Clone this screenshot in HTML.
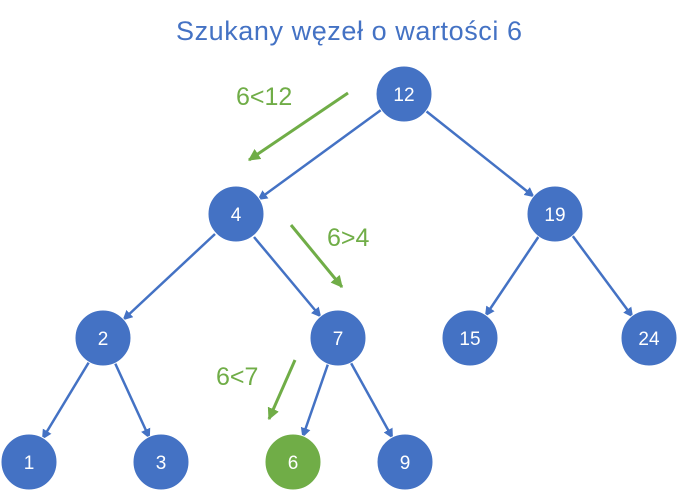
<!DOCTYPE html>
<html><head><style>
body{margin:0;background:#fff;}
svg{display:block;font-family:"Liberation Sans",sans-serif;}
</style></head><body>
<svg width="678" height="490" viewBox="0 0 678 490">
<defs>
<marker id="b" markerWidth="10" markerHeight="10" refX="8" refY="5" orient="auto" markerUnits="userSpaceOnUse" viewBox="0 0 10 10"><path d="M0,0 L10,5 L0,10 z" fill="#4472C4"/></marker>
<marker id="g" markerWidth="12" markerHeight="12" refX="9" refY="5" orient="auto" markerUnits="userSpaceOnUse" viewBox="0 0 10 10"><path d="M0,0 L10,5 L0,10 z" fill="#70AD47"/></marker>
</defs>
<text x="349" y="40" font-size="27" fill="#4472C4" text-anchor="middle" textLength="346">Szukany węzeł o wartości 6</text>
<g stroke="#4472C4" stroke-width="2.5" marker-end="url(#b)">
<line x1="381" y1="110" x2="259" y2="199"/>
<line x1="426" y1="111" x2="533" y2="196"/>
<line x1="215" y1="234" x2="124" y2="319"/>
<line x1="254" y1="237" x2="320" y2="316"/>
<line x1="539" y1="236" x2="486" y2="315"/>
<line x1="572" y1="235" x2="632" y2="316"/>
<line x1="89" y1="362" x2="43" y2="438"/>
<line x1="115" y1="363" x2="149" y2="437"/>
<line x1="328" y1="364" x2="303" y2="436"/>
<line x1="351" y1="363" x2="392" y2="437"/>
</g>
<g stroke="#70AD47" stroke-width="3" marker-end="url(#g)">
<line x1="348" y1="93" x2="249" y2="160"/>
<line x1="291" y1="225" x2="342" y2="287"/>
<line x1="295" y1="360" x2="269" y2="419"/>
</g>
<g font-size="25" fill="#70AD47">
<text x="236" y="105">6&lt;12</text>
<text x="327" y="246">6&gt;4</text>
<text x="216" y="385">6&lt;7</text>
</g>
<g stroke="#fff" stroke-width="1">
<circle cx="404" cy="94" r="28" fill="#4472C4"/>
<circle cx="236" cy="214" r="28" fill="#4472C4"/>
<circle cx="555" cy="214" r="28" fill="#4472C4"/>
<circle cx="103" cy="338" r="28" fill="#4472C4"/>
<circle cx="338" cy="338" r="28" fill="#4472C4"/>
<circle cx="470" cy="338" r="28" fill="#4472C4"/>
<circle cx="649" cy="338" r="28" fill="#4472C4"/>
<circle cx="29" cy="462" r="28" fill="#4472C4"/>
<circle cx="161" cy="462" r="28" fill="#4472C4"/>
<circle cx="293" cy="462" r="28" fill="#70AD47"/>
<circle cx="405" cy="462" r="28" fill="#4472C4"/>
</g>
<g font-size="19" fill="#fff" text-anchor="middle">
<text x="404" y="101">12</text>
<text x="236" y="221">4</text>
<text x="555" y="221">19</text>
<text x="103" y="345">2</text>
<text x="338" y="345">7</text>
<text x="470" y="345">15</text>
<text x="649" y="345">24</text>
<text x="29" y="469">1</text>
<text x="161" y="469">3</text>
<text x="293" y="469">6</text>
<text x="405" y="469">9</text>
</g>
</svg>
</body></html>
